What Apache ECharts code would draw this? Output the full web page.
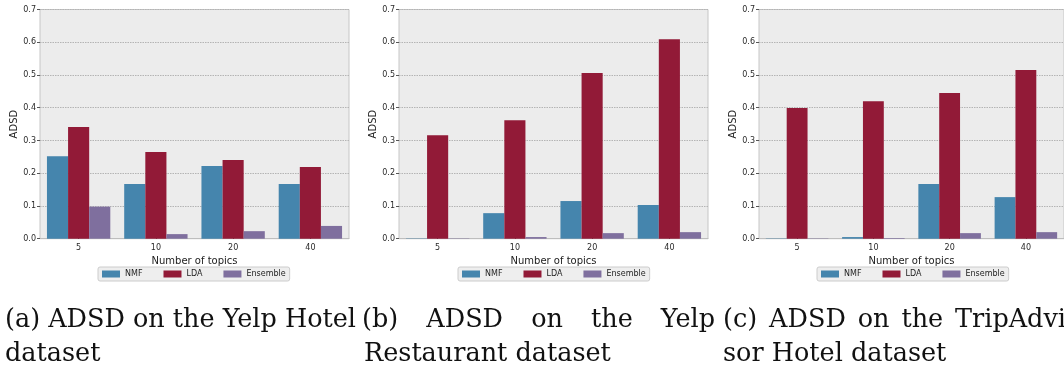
<!DOCTYPE html>
<html>
<head>
<meta charset="utf-8">
<script src="https://cdn.jsdelivr.net/npm/echarts@6/dist/echarts.min.js"></script>
<style>
html,body{margin:0;padding:0;background:#fff;}
#chart{width:1064px;height:368px;}
</style>
</head>
<body>
<div id="chart"></div>
<script>
const categories = ['5', '10', '20', '40'];
const seriesNames = ['NMF', 'LDA', 'Ensemble'];
const yTicks = ['0.0', '0.1', '0.2', '0.3', '0.4', '0.5', '0.6', '0.7'];

// Panel (a) Yelp Hotel
const hotelNMF = [0.252, 0.167, 0.222, 0.167];
const hotelLDA = [0.341, 0.265, 0.240, 0.219];
const hotelEnsemble = [0.098, 0.014, 0.023, 0.039];
// Panel (b) Yelp Restaurant
const restNMF = [0.001, 0.078, 0.115, 0.103];
const restLDA = [0.316, 0.362, 0.506, 0.609];
const restEnsemble = [0.001, 0.005, 0.017, 0.020];
// Panel (c) TripAdvisor Hotel
const tripNMF = [0.001, 0.005, 0.167, 0.127];
const tripLDA = [0.399, 0.420, 0.445, 0.515];
const tripEnsemble = [0.001, 0.002, 0.017, 0.020];

const captionA = ['(a) ADSD on the Yelp Hotel', 'dataset'];
const captionB = ['(b) ADSD on the Yelp', 'Restaurant dataset'];
const captionC = ['(c) ADSD on the TripAdvi', 'sor Hotel dataset'];

const panels = [
  {values: [hotelNMF, hotelLDA, hotelEnsemble]},
  {values: [restNMF, restLDA, restEnsemble]},
  {values: [tripNMF, tripLDA, tripEnsemble]}
];
const colors = ['#4585ad', '#921a37', '#7f6f9e'];
const gridLefts = [40, 399, 759];
const legendLefts = [98, 458, 817];
const sansFont = 'DejaVu Sans';
const serifFont = 'DejaVu Serif';

const chart = echarts.init(document.getElementById('chart'), null, {renderer: 'canvas'});

const grids = [], xAxes = [], yAxes = [], series = [], legends = [];
panels.forEach((p, i) => {
  grids.push({left: gridLefts[i], width: 309, top: 9.5, height: 229.2, show: true,
    backgroundColor: '#ececec', borderColor: '#c6c6c6', borderWidth: 1, containLabel: false});
  xAxes.push({type: 'category', gridIndex: i, data: categories,
    name: 'Number of topics', nameLocation: 'middle', nameGap: 13,
    nameTextStyle: {fontFamily: sansFont, fontSize: 10, color: '#222'},
    axisLine: {show: true, lineStyle: {color: '#bdbdbd', width: 1}},
    axisTick: {show: true, alignWithLabel: true, length: 2, inside: true, lineStyle: {color: '#222', width: 1}},
    axisLabel: {fontFamily: sansFont, fontSize: 8, color: '#2a2a2a', margin: 5},
    splitLine: {show: false}});
  yAxes.push({type: 'value', gridIndex: i, min: 0, max: 0.7, interval: 0.1,
    name: 'ADSD', nameLocation: 'middle', nameGap: 21,
    nameTextStyle: {fontFamily: sansFont, fontSize: 10, color: '#222'},
    axisLine: {show: false},
    axisTick: {show: true, length: 3, lineStyle: {color: '#555', width: 1}},
    axisLabel: {fontFamily: sansFont, fontSize: 8, color: '#2a2a2a', margin: 4,
      formatter: v => yTicks[Math.round(v * 10)]},
    splitLine: {show: true, lineStyle: {color: '#b4b4b4', type: [1.5, 1], width: 1}}});
  seriesNames.forEach((n, k) => {
    series.push({name: n, type: 'bar', xAxisIndex: i, yAxisIndex: i, data: p.values[k],
      barGap: '0%', barCategoryGap: '18%', itemStyle: {color: colors[k]}, animation: false});
  });
  legends.push({data: seriesNames, left: legendLefts[i], top: 267, orient: 'horizontal',
    itemWidth: 18, itemHeight: 7, itemGap: 21, padding: [3, 4, 3, 4],
    backgroundColor: '#eeeeee', borderColor: '#cccccc', borderWidth: 1, borderRadius: 2,
    textStyle: {fontFamily: sansFont, fontSize: 8, color: '#222'}, icon: 'rect', selectedMode: false});
});

// Captions
const captionFontSize = 25.5;
const capFont = captionFontSize + 'px "' + serifFont + '"';
const measureCtx = document.createElement('canvas').getContext('2d');
measureCtx.font = capFont;
const graphics = [];
function addText(txt, x, y) {
  graphics.push({type: 'text', x: x, y: y,
    style: {text: txt, font: capFont, fill: '#111', textVerticalAlign: 'middle', textAlign: 'left'}});
}
function addJustified(txt, x0, x1, y) {
  const words = txt.split(' ');
  const widths = words.map(w => measureCtx.measureText(w).width);
  const total = widths.reduce((a, b) => a + b, 0);
  const gap = (x1 - x0 - total) / (words.length - 1);
  let x = x0;
  words.forEach((w, j) => { addText(w, x, y); x += widths[j] + gap; });
}
const line1Y = 320, line2Y = 354;
addJustified(captionA[0], 5, 356, line1Y);
addText(captionA[1], 5, line2Y);
addJustified(captionB[0], 362, 715, line1Y);
addText(captionB[1], 364, line2Y);
addJustified(captionC[0], 723, 1066, line1Y);
addText(captionC[1], 723, line2Y);

chart.setOption({
  animation: false,
  color: colors,
  grid: grids, xAxis: xAxes, yAxis: yAxes, series: series, legend: legends,
  graphic: graphics
});
</script>
</body>
</html>
